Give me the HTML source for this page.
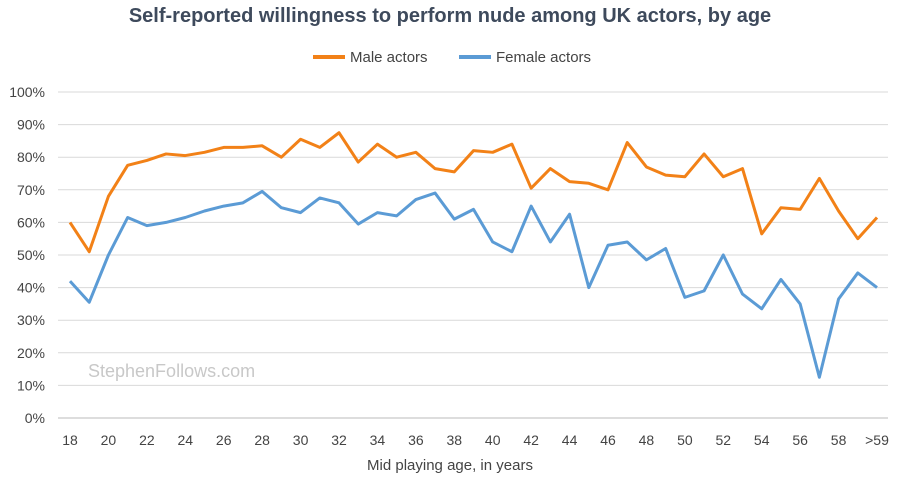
<!DOCTYPE html>
<html><head><meta charset="utf-8"><style>
body{margin:0;background:#fff;font-family:"Liberation Sans",sans-serif;}
svg text{font-family:"Liberation Sans",sans-serif;}
</style></head><body>
<svg id="chart" width="900" height="481">
<text x="450" y="22" text-anchor="middle" font-size="20" font-weight="bold" fill="#3e4a5c">Self-reported willingness to perform nude among UK actors, by age</text>
<g>
<line x1="313" y1="57" x2="345" y2="57" stroke="#f28117" stroke-width="4"/>
<text x="350" y="62" font-size="15" fill="#444">Male actors</text>
<line x1="459" y1="57" x2="491" y2="57" stroke="#5b9bd5" stroke-width="4"/>
<text x="496" y="62" font-size="15" fill="#444">Female actors</text>
</g>
<text x="88" y="377" font-size="18" fill="#c8c8c8">StephenFollows.com</text>
<text x="450" y="470" text-anchor="middle" font-size="15" fill="#444">Mid playing age, in years</text>
<g id="grid"></g><g id="series"></g><g id="xt"></g>
</svg>
<script>
const categories=["18","19","20","21","22","23","24","25","26","27","28","29","30","31","32","33","34","35","36","37","38","39","40","41","42","43","44","45","46","47","48","49","50","51","52","53","54","55","56","57","58","59",">59"];
const maleValues=[60,51,68,77.5,79,81,80.5,81.5,83,83,83.5,80,85.5,83,87.5,78.5,84,80,81.5,76.5,75.5,82,81.5,84,70.5,76.5,72.5,72,70,84.5,77,74.5,74,81,74,76.5,56.5,64.5,64,73.5,63.5,55,61.5];
const femaleValues=[42,35.5,50,61.5,59,60,61.5,63.5,65,66,69.5,64.5,63,67.5,66,59.5,63,62,67,69,61,64,54,51,65,54,62.5,40,53,54,48.5,52,37,39,50,38,33.5,42.5,35,12.5,36.5,44.5,40];
const yTicks=[0,10,20,30,40,50,60,70,80,90,100];
const NS="http://www.w3.org/2000/svg";
const x0=70,x1=877,yTop=92,yBot=418;
const xs=i=>x0+i*(x1-x0)/(categories.length-1);
const ys=v=>yBot-v/100*(yBot-yTop);
const grid=document.getElementById('grid');
yTicks.forEach(t=>{
 const l=document.createElementNS(NS,'line');
 l.setAttribute('x1',58);l.setAttribute('x2',888);l.setAttribute('y1',ys(t));l.setAttribute('y2',ys(t));
 l.setAttribute('stroke',t===0?'#bbb':'#d9d9d9');l.setAttribute('stroke-width',1);
 
 
 grid.appendChild(l);
 const tx=document.createElementNS(NS,'text');
 tx.setAttribute('x',45);tx.setAttribute('y',ys(t)+5);tx.setAttribute('text-anchor','end');
 tx.setAttribute('font-size',14);tx.setAttribute('fill','#444');tx.textContent=t+'%';
 
 
 grid.appendChild(tx);
});
const xt=document.getElementById('xt');
categories.forEach((c,i)=>{
 if(i%2!==0)return;
 const tx=document.createElementNS(NS,'text');
 tx.setAttribute('x',xs(i));tx.setAttribute('y',445);tx.setAttribute('text-anchor','middle');
 tx.setAttribute('font-size',14);tx.setAttribute('fill','#444');tx.textContent=c;
 
 
 xt.appendChild(tx);
});
const ser=document.getElementById('series');
function line(vals,color,name){
 const p=document.createElementNS(NS,'polyline');
 p.setAttribute('points',vals.map((v,i)=>xs(i)+','+ys(v)).join(' '));
 p.setAttribute('fill','none');p.setAttribute('stroke',color);p.setAttribute('stroke-width',3);
 p.setAttribute('stroke-linejoin','round');
 
 
 ser.appendChild(p);
}
line(maleValues,'#f28117','male-actors-line');
line(femaleValues,'#5b9bd5','female-actors-line');
</script>
</body></html>
